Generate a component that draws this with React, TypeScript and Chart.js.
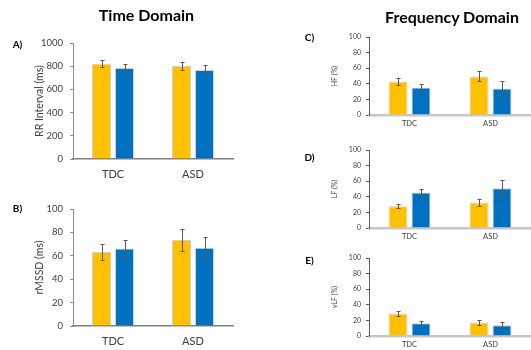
import React, { useEffect, useRef } from 'react';
import { Chart, registerables } from 'chart.js';

Chart.register(...registerables);

const categories = ['TDC', 'ASD'];
const seriesNames = ['Group 1', 'Group 2'];
const seriesColors = ['#FFC000', '#0070C0'];

// A) RR Interval (ms)
const rrYellow = [822, 802];
const rrYellowErr = [31, 37];
const rrBlue = [784, 767];
const rrBlueErr = [35, 42];

// B) rMSSD (ms)
const rmssdYellow = [63.3, 73.4];
const rmssdYellowErr = [6.5, 9.5];
const rmssdBlue = [66.3, 66.8];
const rmssdBlueErr = [7.2, 9.5];

// C) HF (%)
const hfYellow = [43, 49.5];
const hfYellowErr = [4.5, 6.5];
const hfBlue = [35.3, 34];
const hfBlueErr = [4.8, 9.5];

// D) LF (%)
const lfYellow = [27.9, 32.6];
const lfYellowErr = [2.8, 4.5];
const lfBlue = [45.5, 51];
const lfBlueErr = [4.3, 10];

// E) vLF (%)
const vlfYellow = [28.9, 17.2];
const vlfYellowErr = [3.4, 3];
const vlfBlue = [16.4, 13.8];
const vlfBlueErr = [3.4, 4.2];

const FONT = 'Lato, "Open Sans", sans-serif';

type PanelCfg = {
  left: number; top: number; width: number; height: number;
  area: { left: number; top: number; right: number; bottom: number };
  yMax: number; step: number; yTitle: string;
  yellow: number[]; yellowErr: number[]; blue: number[]; blueErr: number[];
  tickSize: number; catSize: number; titleSize: number; titleX: number;
  tickPad: number; catPad: number;
  xBorderColor: string; xBorderWidth: number; yBorderColor: string;
};

const big = {
  tickSize: 9.5, catSize: 11, titleSize: 10.5, titleX: 40, tickPad: 7, catPad: 9,
  xBorderColor: '#7f7f7f', xBorderWidth: 1.5, yBorderColor: '#8c8c8c',
};
const small = {
  tickSize: 7, catSize: 7.5, titleSize: 7, titleX: 335, tickPad: 5, catPad: 4,
  xBorderColor: '#c8c8c8', xBorderWidth: 2.5, yBorderColor: '#595959',
};

const panels: PanelCfg[] = [
  { left: 0, top: 25, width: 245, height: 160, area: { left: 73, top: 43, right: 233, bottom: 159 },
    yMax: 1000, step: 200, yTitle: 'RR Interval (ms)',
    yellow: rrYellow, yellowErr: rrYellowErr, blue: rrBlue, blueErr: rrBlueErr, ...big },
  { left: 0, top: 195, width: 245, height: 155, area: { left: 73, top: 209, right: 233, bottom: 326 },
    yMax: 100, step: 20, yTitle: 'rMSSD (ms)',
    yellow: rmssdYellow, yellowErr: rmssdYellowErr, blue: rmssdBlue, blueErr: rmssdBlueErr, ...big },
  { left: 290, top: 25, width: 241, height: 108, area: { left: 369, top: 37, right: 531, bottom: 115 },
    yMax: 100, step: 20, yTitle: 'HF (%)',
    yellow: hfYellow, yellowErr: hfYellowErr, blue: hfBlue, blueErr: hfBlueErr, ...small },
  { left: 290, top: 140, width: 241, height: 105, area: { left: 369, top: 150, right: 531, bottom: 228 },
    yMax: 100, step: 20, yTitle: 'LF (%)',
    yellow: lfYellow, yellowErr: lfYellowErr, blue: lfBlue, blueErr: lfBlueErr, ...small },
  { left: 290, top: 248, width: 241, height: 102, area: { left: 369, top: 258, right: 531, bottom: 336 },
    yMax: 100, step: 20, yTitle: 'vLF (%)',
    yellow: vlfYellow, yellowErr: vlfYellowErr, blue: vlfBlue, blueErr: vlfBlueErr, ...small },
];

const errorBarPlugin = {
  id: 'errorBars',
  afterDatasetsDraw(chart: any) {
    const ctx = chart.ctx;
    const yScale = chart.scales.y;
    ctx.save();
    ctx.strokeStyle = '#595959';
    ctx.lineWidth = 1;
    chart.data.datasets.forEach((ds: any, i: number) => {
      const meta = chart.getDatasetMeta(i);
      meta.data.forEach((bar: any, j: number) => {
        const v = ds.data[j];
        const e = ds.errors[j];
        const x = Math.round(bar.x) + 0.5;
        const yT = Math.round(yScale.getPixelForValue(v + e)) + 0.5;
        const yB = Math.round(yScale.getPixelForValue(v - e)) + 0.5;
        ctx.beginPath();
        ctx.moveTo(x, yT); ctx.lineTo(x, yB);
        ctx.moveTo(x - 2, yT); ctx.lineTo(x + 2, yT);
        ctx.moveTo(x - 2, yB); ctx.lineTo(x + 2, yB);
        ctx.stroke();
      });
    });
    ctx.restore();
  },
};

function Panel({ cfg }: { cfg: PanelCfg }) {
  const ref = useRef<HTMLCanvasElement>(null);
  useEffect(() => {
    if (!ref.current) return;
    const yWidth = cfg.area.left - cfg.left;
    const padTop = cfg.area.top - cfg.top;
    const padRight = cfg.left + cfg.width - cfg.area.right;
    const xHeight = cfg.top + cfg.height - cfg.area.bottom;
    const catWidth = (cfg.area.right - cfg.area.left) / categories.length;
    const catPct = 46 / catWidth;
    const titleLH = cfg.titleSize * 1.2;
    const chart = new Chart(ref.current, {
      type: 'bar',
      data: {
        labels: categories,
        datasets: [
          { label: seriesNames[0], data: cfg.yellow, errors: cfg.yellowErr, backgroundColor: seriesColors[0],
            borderColor: 'rgba(205,205,205,0.9)', borderWidth: 1, categoryPercentage: catPct, barPercentage: 19 / 23 } as any,
          { label: seriesNames[1], data: cfg.blue, errors: cfg.blueErr, backgroundColor: seriesColors[1],
            borderColor: 'rgba(205,205,205,0.9)', borderWidth: 1, categoryPercentage: catPct, barPercentage: 19 / 23 } as any,
        ],
      },
      options: {
        animation: false,
        responsive: true,
        maintainAspectRatio: false,
        layout: { padding: { top: padTop, right: padRight, bottom: 0, left: 0 } },
        plugins: { legend: { display: false }, tooltip: { enabled: false }, title: { display: false } },
        scales: {
          x: {
            offset: true,
            grid: { display: false, drawOnChartArea: false, drawTicks: false },
            border: { display: true, color: cfg.xBorderColor, width: cfg.xBorderWidth },
            ticks: { color: '#404040', font: { family: FONT, size: cfg.catSize }, padding: cfg.catPad },
            afterFit: (s: any) => { s.height = xHeight; },
          },
          y: {
            min: 0,
            max: cfg.yMax,
            grid: { drawOnChartArea: false, drawTicks: true, tickLength: 3, color: cfg.yBorderColor },
            border: { display: true, color: cfg.yBorderColor, width: 1 },
            ticks: {
              stepSize: cfg.step, color: '#404040', font: { family: FONT, size: cfg.tickSize }, padding: cfg.tickPad,
              callback: (v: any) => String(v),
            },
            title: {
              display: true, text: cfg.yTitle, color: '#404040',
              font: { family: FONT, size: cfg.titleSize },
              padding: { top: cfg.titleX - cfg.left - titleLH / 2, bottom: 0 },
            },
            afterFit: (s: any) => { s.width = yWidth; },
          },
        },
      } as any,
      plugins: [errorBarPlugin],
    });
    return () => chart.destroy();
  }, [cfg]);
  return (
    <div style={{ position: 'absolute', left: cfg.left, top: cfg.top, width: cfg.width, height: cfg.height }}>
      <canvas ref={ref} />
    </div>
  );
}

function Label({ text, cx, cy, size }: { text: string; cx: number; cy: number; size: number }) {
  return (
    <div style={{
      position: 'absolute', left: cx - 100, top: cy - 12, width: 200, height: 24, lineHeight: '24px',
      textAlign: 'center', fontFamily: FONT, fontWeight: 'bold', fontSize: size, color: '#000', whiteSpace: 'nowrap',
    }}>{text}</div>
  );
}

export default function App() {
  return (
    <div style={{ position: 'fixed', left: 0, top: 0, width: 531, height: 350, background: '#fff', overflow: 'hidden' }}>
      {panels.map((p, i) => <Panel key={i} cfg={p} />)}
      <Label text="Time Domain" cx={146.5} cy={15} size={16} />
      <Label text="Frequency Domain" cx={452} cy={17} size={16} />
      <Label text="A)" cx={17.5} cy={44} size={10} />
      <Label text="B)" cx={17.5} cy={208} size={10} />
      <Label text="C)" cx={309.5} cy={37} size={10} />
      <Label text="D)" cx={309.5} cy={157} size={10} />
      <Label text="E)" cx={309.5} cy={260} size={10} />
    </div>
  );
}
